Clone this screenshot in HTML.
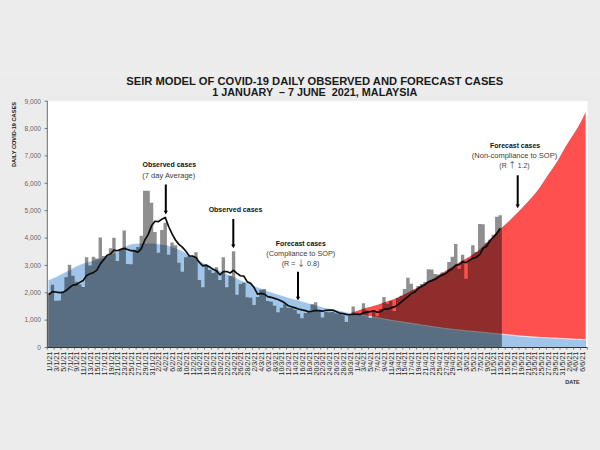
<!DOCTYPE html>
<html><head><meta charset="utf-8"><style>
html,body{margin:0;padding:0;background:#ececec;width:600px;height:450px;overflow:hidden}
svg{position:absolute;left:0;top:0}
</style></head><body>
<svg width="600" height="450" viewBox="0 0 600 450">
<rect x="0" y="0" width="600" height="450" fill="#ececec"/>
<rect x="0" y="72" width="600" height="3" fill="#eeeeee"/>
<rect x="47.3" y="101" width="540.2" height="246.5" fill="#ffffff"/>
<polygon points="349.79,347.50 349.79,312.69 353.21,311.87 356.63,310.88 360.05,309.72 363.47,308.51 366.88,307.49 370.30,306.68 373.72,305.85 377.14,304.82 380.56,303.61 383.97,302.35 387.39,301.18 390.81,300.04 394.23,298.82 397.65,297.39 401.06,295.79 404.48,294.12 407.90,292.39 411.32,290.60 414.74,288.80 418.15,287.07 421.57,285.32 424.99,283.44 428.41,281.44 431.83,279.36 435.24,277.25 438.66,275.12 442.08,272.93 445.50,270.72 448.92,268.54 452.33,266.43 455.75,264.36 459.17,262.33 462.59,260.36 466.01,258.44 469.42,256.45 472.84,254.29 476.26,251.91 479.68,249.25 483.10,246.08 486.51,242.56 489.93,239.08 493.35,235.57 496.77,232.23 500.19,229.05 503.60,225.87 507.02,222.71 510.44,219.46 513.86,216.10 517.27,212.65 520.69,209.13 524.11,205.56 527.53,201.91 530.95,198.10 534.37,194.16 537.78,189.90 541.20,185.00 544.62,179.73 548.04,174.62 551.46,169.79 554.87,164.66 558.29,159.19 561.71,152.97 565.13,147.02 568.54,141.56 571.96,136.17 575.38,130.91 578.80,125.16 582.22,118.72 585.63,111.71 585.63,347.50" fill="#ff5050"/>
<polyline points="349.79,312.19 353.21,311.37 356.63,310.38 360.05,309.22 363.47,308.01 366.88,306.99 370.30,306.18 373.72,305.35 377.14,304.32 380.56,303.11 383.97,301.85 387.39,300.68 390.81,299.54 394.23,298.32 397.65,296.89 401.06,295.29 404.48,293.62 407.90,291.89 411.32,290.10 414.74,288.30 418.15,286.57 421.57,284.82 424.99,282.94 428.41,280.94 431.83,278.86 435.24,276.75 438.66,274.62 442.08,272.43 445.50,270.22 448.92,268.04 452.33,265.93 455.75,263.86 459.17,261.83 462.59,259.86 466.01,257.94 469.42,255.95 472.84,253.79 476.26,251.41 479.68,248.75 483.10,245.58 486.51,242.06 489.93,238.58 493.35,235.07 496.77,231.73 500.19,228.55 503.60,225.37 507.02,222.21 510.44,218.96 513.86,215.60 517.27,212.15 520.69,208.63 524.11,205.06 527.53,201.41 530.95,197.60 534.37,193.66 537.78,189.40 541.20,184.50 544.62,179.23 548.04,174.12 551.46,169.29 554.87,164.16 558.29,158.69 561.71,152.47 565.13,146.52 568.54,141.06 571.96,135.67 575.38,130.41 578.80,124.66 582.22,118.22 585.63,111.21" fill="none" stroke="#fff" stroke-opacity="0.75" stroke-width="1"/>
<polygon points="48.50,347.50 48.50,279.63 49.01,279.63 52.43,278.18 55.84,276.65 59.26,275.06 62.68,273.37 66.10,271.59 69.52,269.79 72.94,267.85 76.35,265.97 79.77,264.39 83.19,263.22 86.61,262.24 90.03,261.31 93.44,260.33 96.86,259.35 100.28,258.34 103.70,257.22 107.12,255.92 110.53,254.50 113.95,253.01 117.37,251.32 120.79,249.19 124.20,247.12 127.62,245.30 131.04,243.99 134.46,243.40 137.88,243.27 141.30,243.18 144.71,243.13 148.13,243.10 151.55,243.12 154.97,243.33 158.38,243.70 161.80,244.16 165.22,244.72 168.64,245.57 172.06,246.65 175.48,247.87 178.89,249.20 182.31,250.82 185.73,252.64 189.15,254.53 192.56,256.46 195.98,258.53 199.40,260.61 202.82,262.57 206.24,264.35 209.66,266.04 213.07,267.67 216.49,269.27 219.91,270.83 223.33,272.34 226.75,273.83 230.16,275.32 233.58,276.85 237.00,278.37 240.42,279.88 243.83,281.35 247.25,282.79 250.67,284.20 254.09,285.59 257.51,286.95 260.93,288.29 264.34,289.61 267.76,290.88 271.18,292.07 274.60,293.19 278.01,294.26 281.43,295.30 284.85,296.34 288.27,297.36 291.69,298.36 295.11,299.34 298.52,300.31 301.94,301.25 305.36,302.17 308.78,303.10 312.20,304.07 315.61,305.09 319.03,306.09 322.45,307.00 325.87,307.78 329.29,308.49 332.70,309.16 336.12,309.83 339.54,310.53 342.96,311.25 346.38,311.96 349.79,312.65 353.21,313.32 356.63,313.98 360.05,314.64 363.47,315.28 366.88,315.92 370.30,316.55 373.72,317.17 377.14,317.78 380.56,318.39 383.97,318.99 387.39,319.59 390.81,320.18 394.23,320.75 397.65,321.32 401.06,321.86 404.48,322.38 407.90,322.89 411.32,323.39 414.74,323.89 418.15,324.40 421.57,324.93 424.99,325.45 428.41,325.97 431.83,326.49 435.24,326.98 438.66,327.48 442.08,327.98 445.50,328.45 448.92,328.89 452.33,329.30 455.75,329.69 459.17,330.05 462.59,330.40 466.01,330.74 469.42,331.07 472.84,331.37 476.26,331.67 479.68,331.98 483.10,332.29 486.51,332.63 489.93,332.97 493.35,333.32 496.77,333.68 500.19,334.02 503.60,334.36 507.02,334.71 510.44,335.06 513.86,335.41 517.27,335.75 520.69,336.08 524.11,336.37 527.53,336.64 530.95,336.87 534.37,337.08 537.78,337.27 541.20,337.45 544.62,337.63 548.04,337.80 551.46,337.96 554.87,338.13 558.29,338.29 561.71,338.47 565.13,338.65 568.54,338.83 571.96,339.01 575.38,339.19 578.80,339.36 582.22,339.54 585.63,339.72 585.63,347.50" fill="#a0c5e8"/>
<polyline points="49.01,279.63 52.43,278.18 55.84,276.65 59.26,275.06 62.68,273.37 66.10,271.59 69.52,269.79 72.94,267.85 76.35,265.97 79.77,264.39 83.19,263.22 86.61,262.24 90.03,261.31 93.44,260.33 96.86,259.35 100.28,258.34 103.70,257.22 107.12,255.92 110.53,254.50 113.95,253.01 117.37,251.32 120.79,249.19 124.20,247.12 127.62,245.30 131.04,243.99 134.46,243.40 137.88,243.27 141.30,243.18 144.71,243.13 148.13,243.10 151.55,243.12 154.97,243.33 158.38,243.70 161.80,244.16 165.22,244.72 168.64,245.57 172.06,246.65 175.48,247.87 178.89,249.20 182.31,250.82 185.73,252.64 189.15,254.53 192.56,256.46 195.98,258.53 199.40,260.61 202.82,262.57 206.24,264.35 209.66,266.04 213.07,267.67 216.49,269.27 219.91,270.83 223.33,272.34 226.75,273.83 230.16,275.32 233.58,276.85 237.00,278.37 240.42,279.88 243.83,281.35 247.25,282.79 250.67,284.20 254.09,285.59 257.51,286.95 260.93,288.29 264.34,289.61 267.76,290.88 271.18,292.07 274.60,293.19 278.01,294.26 281.43,295.30 284.85,296.34 288.27,297.36 291.69,298.36 295.11,299.34 298.52,300.31 301.94,301.25 305.36,302.17 308.78,303.10 312.20,304.07 315.61,305.09 319.03,306.09 322.45,307.00 325.87,307.78 329.29,308.49 332.70,309.16 336.12,309.83 339.54,310.53 342.96,311.25 346.38,311.96 349.79,312.65 353.21,313.32 356.63,313.98 360.05,314.64 363.47,315.28 366.88,315.92 370.30,316.55 373.72,317.17 377.14,317.78 380.56,318.39 383.97,318.99 387.39,319.59 390.81,320.18 394.23,320.75 397.65,321.32 401.06,321.86 404.48,322.38 407.90,322.89 411.32,323.39 414.74,323.89 418.15,324.40 421.57,324.93 424.99,325.45 428.41,325.97 431.83,326.49 435.24,326.98 438.66,327.48 442.08,327.98 445.50,328.45 448.92,328.89 452.33,329.30 455.75,329.69 459.17,330.05 462.59,330.40 466.01,330.74 469.42,331.07 472.84,331.37 476.26,331.67 479.68,331.98 483.10,332.29 486.51,332.63 489.93,332.97 493.35,333.32 496.77,333.68 500.19,334.02 503.60,334.36 507.02,334.71 510.44,335.06 513.86,335.41 517.27,335.75 520.69,336.08 524.11,336.37 527.53,336.64 530.95,336.87 534.37,337.08 537.78,337.27 541.20,337.45 544.62,337.63 548.04,337.80 551.46,337.96 554.87,338.13 558.29,338.29 561.71,338.47 565.13,338.65 568.54,338.83 571.96,339.01 575.38,339.19 578.80,339.36 582.22,339.54 585.63,339.72" fill="none" stroke="#fff" stroke-opacity="0.7" stroke-width="1.1"/>
<line x1="47.3" y1="101" x2="47.3" y2="347.5" stroke="#5a5a5a" stroke-width="0.9"/>
<g fill="#000" fill-opacity="0.44">
<path d="M47.30 347.50L47.30 292.77L50.72 292.77L50.72 284.83L54.14 284.83L54.14 300.70L57.55 300.70L57.55 300.43L60.97 300.43L60.97 291.95L64.39 291.95L64.39 277.17L67.81 277.17L67.81 264.85L71.23 264.85L71.23 275.80L74.64 275.80L74.64 281.82L78.06 281.82L78.06 284.56L81.48 284.56L81.48 287.02L84.90 287.02L84.90 257.19L88.32 257.19L88.32 265.40L91.73 265.40L91.73 256.64L95.15 256.64L95.15 258.56L98.57 258.56L98.57 237.49L101.99 237.49L101.99 256.10L105.41 256.10L105.41 255.82L108.82 255.82L108.82 248.30L112.24 248.30L112.24 237.87L115.66 237.87L115.66 260.99L119.08 260.99L119.08 248.98L122.50 248.98L122.50 230.59L125.91 230.59L125.91 264.03L129.33 264.03L129.33 264.31L132.75 264.31L132.75 249.66L136.17 249.66L136.17 247.01L139.59 247.01L139.59 235.68L143.00 235.68L143.00 190.83L146.42 190.83L146.42 190.74L149.84 190.74L149.84 202.70L153.26 202.70L153.26 232.01L156.68 232.01L156.68 252.67L160.09 252.67L160.09 230.01L163.51 230.01L163.51 222.71L166.93 222.71L166.93 254.70L170.35 254.70L170.35 242.41L173.77 242.41L173.77 245.31L177.18 245.31L177.18 262.80L180.60 262.80L180.60 271.69L184.02 271.69L184.02 257.19L187.44 257.19L187.44 256.10L190.86 256.10L190.86 257.19L194.27 257.19L194.27 252.21L197.69 252.21L197.69 279.90L201.11 279.90L201.11 287.29L204.53 287.29L204.53 265.67L207.95 265.67L207.95 270.05L211.36 270.05L211.36 273.06L214.78 273.06L214.78 267.32L218.20 267.32L218.20 279.99L221.62 279.99L221.62 257.30L225.04 257.30L225.04 287.29L228.45 287.29L228.45 275.80L231.87 275.80L231.87 251.31L235.29 251.31L235.29 294.68L238.71 294.68L238.71 284.01L242.13 284.01L242.13 282.70L245.54 282.70L245.54 297.31L248.96 297.31L248.96 297.69L252.38 297.69L252.38 305.00L255.80 305.00L255.80 297.01L259.22 297.01L259.22 289.70L262.63 289.70L262.63 288.99L266.05 288.99L266.05 300.98L269.47 300.98L269.47 301.66L272.89 301.66L272.89 305.68L276.31 305.68L276.31 312.31L279.72 312.31L279.72 307.68L283.14 307.68L283.14 304.32L286.56 304.32L286.56 307.68L289.98 307.68L289.98 307.68L293.40 307.68L293.40 309.68L296.81 309.68L296.81 313.70L300.23 313.70L300.23 318.30L303.65 318.30L303.65 313.02L307.07 313.02L307.07 311.92L310.49 311.92L310.49 304.32L313.90 304.32L313.90 302.35L317.32 302.35L317.32 311.10L320.74 311.10L320.74 317.40L324.16 317.40L324.16 311.92L327.58 311.92L327.58 312.20L330.99 312.20L330.99 311.92L334.41 311.92L334.41 313.29L337.83 313.29L337.83 313.84L341.25 313.84L341.25 315.32L344.67 315.32L344.67 322.02L348.08 322.02L348.08 316.00L351.50 316.00L351.50 306.45L354.92 306.45L354.92 312.66L358.34 312.66L358.34 314.66L361.76 314.66L361.76 303.17L365.17 303.17L365.17 310.28L368.59 310.28L368.59 317.94L372.01 317.94L372.01 310.56L375.43 310.56L375.43 316.30L378.85 316.30L378.85 309.00L382.26 309.00L382.26 297.01L385.68 297.01L385.68 303.71L389.10 303.71L389.10 300.98L392.52 300.98L392.52 310.99L395.94 310.99L395.94 297.69L399.35 297.69L399.35 295.69L402.77 295.69L402.77 288.99L406.19 288.99L406.19 277.69L409.61 277.69L409.61 283.71L413.03 283.71L413.03 289.70L416.44 289.70L416.44 286.01L419.86 286.01L419.86 284.01L423.28 284.01L423.28 282.01L426.70 282.01L426.70 269.31L430.12 269.31L430.12 269.50L433.53 269.50L433.53 273.99L436.95 273.99L436.95 274.49L440.37 274.49L440.37 272.41L443.79 272.41L443.79 273.61L447.21 273.61L447.21 262.01L450.62 262.01L450.62 256.70L454.04 256.70L454.04 244.00L457.46 244.00L457.46 268.68L460.88 268.68L460.88 254.70L464.30 254.70L464.30 278.67L467.71 278.67L467.71 258.70L471.13 258.70L471.13 245.31L474.55 245.31L474.55 251.99L477.97 251.99L477.97 223.99L481.39 223.99L481.39 224.21L484.80 224.21L484.80 242.69L488.22 242.69L488.22 239.68L491.64 239.68L491.64 234.67L495.06 234.67L495.06 216.69L498.48 216.69L498.48 215.32L501.89 215.32L501.89 347.50Z"/>
</g>
<polyline points="49.01,294.72 52.43,291.63 55.84,291.98 59.26,292.69 62.68,292.38 66.10,290.54 69.52,287.53 72.94,285.10 76.35,284.67 79.77,282.37 83.19,280.45 86.61,275.49 90.03,273.81 93.44,272.63 96.86,270.17 100.28,263.84 103.70,259.77 107.12,255.31 110.53,254.04 113.95,250.11 117.37,250.73 120.79,249.36 124.20,248.38 127.62,249.51 131.04,250.72 134.46,250.92 137.88,252.22 141.30,248.61 144.71,240.30 148.13,234.61 151.55,225.85 154.97,221.23 158.38,221.66 161.80,219.24 165.22,217.38 168.64,226.51 172.06,233.89 175.48,239.98 178.89,244.37 182.31,247.09 185.73,250.97 189.15,255.74 192.56,256.10 195.98,257.50 199.40,262.44 202.82,265.94 206.24,265.08 209.66,266.92 213.07,269.34 216.49,270.79 219.91,274.76 223.33,271.53 226.75,271.53 230.16,272.97 233.58,270.29 237.00,273.38 240.42,275.77 243.83,276.16 247.25,281.87 250.67,283.36 254.09,287.53 257.51,294.06 260.93,293.35 264.34,294.06 267.76,296.67 271.18,297.29 274.60,298.43 278.01,299.48 281.43,301.00 284.85,303.09 288.27,305.76 291.69,306.72 295.11,307.86 298.52,309.01 301.94,309.86 305.36,310.63 308.78,311.71 312.20,311.23 315.61,310.47 319.03,310.67 322.45,311.20 325.87,310.29 329.29,310.17 332.70,310.17 336.12,311.45 339.54,313.10 342.96,313.70 346.38,314.36 349.79,314.94 353.21,314.12 356.63,314.23 360.05,314.42 363.47,312.90 366.88,312.18 370.30,311.59 373.72,310.82 377.14,312.22 380.56,311.70 383.97,309.18 387.39,309.26 390.81,307.93 394.23,306.93 397.65,305.10 401.06,302.15 404.48,299.30 407.90,296.54 411.32,293.68 414.74,292.07 418.15,288.50 421.57,286.54 424.99,284.59 428.41,281.78 431.83,280.61 435.24,279.22 438.66,277.05 442.08,275.10 445.50,273.62 448.92,270.76 452.33,268.96 455.75,265.31 459.17,264.56 462.59,261.73 466.01,262.62 469.42,260.49 472.84,258.11 476.26,257.44 479.68,254.58 483.10,248.23 486.51,246.51 489.93,240.94 493.35,237.51 496.77,233.42 500.19,228.18" fill="none" stroke="#0d0d0d" stroke-width="1.7" stroke-linejoin="round"/>
<line x1="47.3" y1="347.5" x2="587.3" y2="347.5" stroke="#333" stroke-width="1.1"/>
<g stroke="#5a5a5a" stroke-width="0.8"><line x1="47.30" y1="347.5" x2="47.30" y2="349.6"/>
<line x1="54.14" y1="347.5" x2="54.14" y2="349.6"/>
<line x1="60.97" y1="347.5" x2="60.97" y2="349.6"/>
<line x1="67.81" y1="347.5" x2="67.81" y2="349.6"/>
<line x1="74.64" y1="347.5" x2="74.64" y2="349.6"/>
<line x1="81.48" y1="347.5" x2="81.48" y2="349.6"/>
<line x1="88.32" y1="347.5" x2="88.32" y2="349.6"/>
<line x1="95.15" y1="347.5" x2="95.15" y2="349.6"/>
<line x1="101.99" y1="347.5" x2="101.99" y2="349.6"/>
<line x1="108.82" y1="347.5" x2="108.82" y2="349.6"/>
<line x1="115.66" y1="347.5" x2="115.66" y2="349.6"/>
<line x1="122.50" y1="347.5" x2="122.50" y2="349.6"/>
<line x1="129.33" y1="347.5" x2="129.33" y2="349.6"/>
<line x1="136.17" y1="347.5" x2="136.17" y2="349.6"/>
<line x1="143.00" y1="347.5" x2="143.00" y2="349.6"/>
<line x1="149.84" y1="347.5" x2="149.84" y2="349.6"/>
<line x1="156.68" y1="347.5" x2="156.68" y2="349.6"/>
<line x1="163.51" y1="347.5" x2="163.51" y2="349.6"/>
<line x1="170.35" y1="347.5" x2="170.35" y2="349.6"/>
<line x1="177.18" y1="347.5" x2="177.18" y2="349.6"/>
<line x1="184.02" y1="347.5" x2="184.02" y2="349.6"/>
<line x1="190.86" y1="347.5" x2="190.86" y2="349.6"/>
<line x1="197.69" y1="347.5" x2="197.69" y2="349.6"/>
<line x1="204.53" y1="347.5" x2="204.53" y2="349.6"/>
<line x1="211.36" y1="347.5" x2="211.36" y2="349.6"/>
<line x1="218.20" y1="347.5" x2="218.20" y2="349.6"/>
<line x1="225.04" y1="347.5" x2="225.04" y2="349.6"/>
<line x1="231.87" y1="347.5" x2="231.87" y2="349.6"/>
<line x1="238.71" y1="347.5" x2="238.71" y2="349.6"/>
<line x1="245.54" y1="347.5" x2="245.54" y2="349.6"/>
<line x1="252.38" y1="347.5" x2="252.38" y2="349.6"/>
<line x1="259.22" y1="347.5" x2="259.22" y2="349.6"/>
<line x1="266.05" y1="347.5" x2="266.05" y2="349.6"/>
<line x1="272.89" y1="347.5" x2="272.89" y2="349.6"/>
<line x1="279.72" y1="347.5" x2="279.72" y2="349.6"/>
<line x1="286.56" y1="347.5" x2="286.56" y2="349.6"/>
<line x1="293.40" y1="347.5" x2="293.40" y2="349.6"/>
<line x1="300.23" y1="347.5" x2="300.23" y2="349.6"/>
<line x1="307.07" y1="347.5" x2="307.07" y2="349.6"/>
<line x1="313.90" y1="347.5" x2="313.90" y2="349.6"/>
<line x1="320.74" y1="347.5" x2="320.74" y2="349.6"/>
<line x1="327.58" y1="347.5" x2="327.58" y2="349.6"/>
<line x1="334.41" y1="347.5" x2="334.41" y2="349.6"/>
<line x1="341.25" y1="347.5" x2="341.25" y2="349.6"/>
<line x1="348.08" y1="347.5" x2="348.08" y2="349.6"/>
<line x1="354.92" y1="347.5" x2="354.92" y2="349.6"/>
<line x1="361.76" y1="347.5" x2="361.76" y2="349.6"/>
<line x1="368.59" y1="347.5" x2="368.59" y2="349.6"/>
<line x1="375.43" y1="347.5" x2="375.43" y2="349.6"/>
<line x1="382.26" y1="347.5" x2="382.26" y2="349.6"/>
<line x1="389.10" y1="347.5" x2="389.10" y2="349.6"/>
<line x1="395.94" y1="347.5" x2="395.94" y2="349.6"/>
<line x1="402.77" y1="347.5" x2="402.77" y2="349.6"/>
<line x1="409.61" y1="347.5" x2="409.61" y2="349.6"/>
<line x1="416.44" y1="347.5" x2="416.44" y2="349.6"/>
<line x1="423.28" y1="347.5" x2="423.28" y2="349.6"/>
<line x1="430.12" y1="347.5" x2="430.12" y2="349.6"/>
<line x1="436.95" y1="347.5" x2="436.95" y2="349.6"/>
<line x1="443.79" y1="347.5" x2="443.79" y2="349.6"/>
<line x1="450.62" y1="347.5" x2="450.62" y2="349.6"/>
<line x1="457.46" y1="347.5" x2="457.46" y2="349.6"/>
<line x1="464.30" y1="347.5" x2="464.30" y2="349.6"/>
<line x1="471.13" y1="347.5" x2="471.13" y2="349.6"/>
<line x1="477.97" y1="347.5" x2="477.97" y2="349.6"/>
<line x1="484.80" y1="347.5" x2="484.80" y2="349.6"/>
<line x1="491.64" y1="347.5" x2="491.64" y2="349.6"/>
<line x1="498.48" y1="347.5" x2="498.48" y2="349.6"/>
<line x1="505.31" y1="347.5" x2="505.31" y2="349.6"/>
<line x1="512.15" y1="347.5" x2="512.15" y2="349.6"/>
<line x1="518.98" y1="347.5" x2="518.98" y2="349.6"/>
<line x1="525.82" y1="347.5" x2="525.82" y2="349.6"/>
<line x1="532.66" y1="347.5" x2="532.66" y2="349.6"/>
<line x1="539.49" y1="347.5" x2="539.49" y2="349.6"/>
<line x1="546.33" y1="347.5" x2="546.33" y2="349.6"/>
<line x1="553.16" y1="347.5" x2="553.16" y2="349.6"/>
<line x1="560.00" y1="347.5" x2="560.00" y2="349.6"/>
<line x1="566.84" y1="347.5" x2="566.84" y2="349.6"/>
<line x1="573.67" y1="347.5" x2="573.67" y2="349.6"/>
<line x1="580.51" y1="347.5" x2="580.51" y2="349.6"/>
<line x1="587.34" y1="347.5" x2="587.34" y2="349.6"/></g>
<g stroke="#5a5a5a" stroke-width="0.8"><line x1="44.6" y1="347.50" x2="47.3" y2="347.50"/>
<line x1="44.6" y1="320.13" x2="47.3" y2="320.13"/>
<line x1="44.6" y1="292.77" x2="47.3" y2="292.77"/>
<line x1="44.6" y1="265.40" x2="47.3" y2="265.40"/>
<line x1="44.6" y1="238.03" x2="47.3" y2="238.03"/>
<line x1="44.6" y1="210.67" x2="47.3" y2="210.67"/>
<line x1="44.6" y1="183.30" x2="47.3" y2="183.30"/>
<line x1="44.6" y1="155.93" x2="47.3" y2="155.93"/>
<line x1="44.6" y1="128.57" x2="47.3" y2="128.57"/>
<line x1="44.6" y1="101.20" x2="47.3" y2="101.20"/></g>
<g font-family="Liberation Sans, Arial, sans-serif" font-size="6.6" fill="#666" text-anchor="end">
<text x="41" y="349.80">0</text>
<text x="41" y="322.43">1,000</text>
<text x="41" y="295.07">2,000</text>
<text x="41" y="267.70">3,000</text>
<text x="41" y="240.33">4,000</text>
<text x="41" y="212.97">5,000</text>
<text x="41" y="185.60">6,000</text>
<text x="41" y="158.23">7,000</text>
<text x="41" y="130.87">8,000</text>
<text x="41" y="103.50">9,000</text>
</g>
<g font-family="Liberation Sans, Arial, sans-serif" font-size="6.4" fill="#262626" text-anchor="end">
<text transform="translate(52.01,351.6) rotate(-90)" textLength="20.16" lengthAdjust="spacingAndGlyphs">1/1/21</text>
<text transform="translate(58.84,351.6) rotate(-90)" textLength="20.16" lengthAdjust="spacingAndGlyphs">3/1/21</text>
<text transform="translate(65.68,351.6) rotate(-90)" textLength="20.16" lengthAdjust="spacingAndGlyphs">5/1/21</text>
<text transform="translate(72.52,351.6) rotate(-90)" textLength="20.16" lengthAdjust="spacingAndGlyphs">7/1/21</text>
<text transform="translate(79.35,351.6) rotate(-90)" textLength="20.16" lengthAdjust="spacingAndGlyphs">9/1/21</text>
<text transform="translate(86.19,351.6) rotate(-90)" textLength="23.81" lengthAdjust="spacingAndGlyphs">11/1/21</text>
<text transform="translate(93.03,351.6) rotate(-90)" textLength="23.81" lengthAdjust="spacingAndGlyphs">13/1/21</text>
<text transform="translate(99.86,351.6) rotate(-90)" textLength="23.81" lengthAdjust="spacingAndGlyphs">15/1/21</text>
<text transform="translate(106.70,351.6) rotate(-90)" textLength="23.81" lengthAdjust="spacingAndGlyphs">17/1/21</text>
<text transform="translate(113.53,351.6) rotate(-90)" textLength="23.81" lengthAdjust="spacingAndGlyphs">19/1/21</text>
<text transform="translate(120.37,351.6) rotate(-90)" textLength="23.81" lengthAdjust="spacingAndGlyphs">21/1/21</text>
<text transform="translate(127.20,351.6) rotate(-90)" textLength="23.81" lengthAdjust="spacingAndGlyphs">23/1/21</text>
<text transform="translate(134.04,351.6) rotate(-90)" textLength="23.81" lengthAdjust="spacingAndGlyphs">25/1/21</text>
<text transform="translate(140.88,351.6) rotate(-90)" textLength="23.81" lengthAdjust="spacingAndGlyphs">27/1/21</text>
<text transform="translate(147.71,351.6) rotate(-90)" textLength="23.81" lengthAdjust="spacingAndGlyphs">29/1/21</text>
<text transform="translate(154.55,351.6) rotate(-90)" textLength="23.81" lengthAdjust="spacingAndGlyphs">31/1/21</text>
<text transform="translate(161.38,351.6) rotate(-90)" textLength="20.16" lengthAdjust="spacingAndGlyphs">2/2/21</text>
<text transform="translate(168.22,351.6) rotate(-90)" textLength="20.16" lengthAdjust="spacingAndGlyphs">4/2/21</text>
<text transform="translate(175.06,351.6) rotate(-90)" textLength="20.16" lengthAdjust="spacingAndGlyphs">6/2/21</text>
<text transform="translate(181.89,351.6) rotate(-90)" textLength="20.16" lengthAdjust="spacingAndGlyphs">8/2/21</text>
<text transform="translate(188.73,351.6) rotate(-90)" textLength="23.81" lengthAdjust="spacingAndGlyphs">10/2/21</text>
<text transform="translate(195.56,351.6) rotate(-90)" textLength="23.81" lengthAdjust="spacingAndGlyphs">12/2/21</text>
<text transform="translate(202.40,351.6) rotate(-90)" textLength="23.81" lengthAdjust="spacingAndGlyphs">14/2/21</text>
<text transform="translate(209.24,351.6) rotate(-90)" textLength="23.81" lengthAdjust="spacingAndGlyphs">16/2/21</text>
<text transform="translate(216.07,351.6) rotate(-90)" textLength="23.81" lengthAdjust="spacingAndGlyphs">18/2/21</text>
<text transform="translate(222.91,351.6) rotate(-90)" textLength="23.81" lengthAdjust="spacingAndGlyphs">20/2/21</text>
<text transform="translate(229.75,351.6) rotate(-90)" textLength="23.81" lengthAdjust="spacingAndGlyphs">22/2/21</text>
<text transform="translate(236.58,351.6) rotate(-90)" textLength="23.81" lengthAdjust="spacingAndGlyphs">24/2/21</text>
<text transform="translate(243.42,351.6) rotate(-90)" textLength="23.81" lengthAdjust="spacingAndGlyphs">26/2/21</text>
<text transform="translate(250.25,351.6) rotate(-90)" textLength="23.81" lengthAdjust="spacingAndGlyphs">28/2/21</text>
<text transform="translate(257.09,351.6) rotate(-90)" textLength="20.16" lengthAdjust="spacingAndGlyphs">2/3/21</text>
<text transform="translate(263.93,351.6) rotate(-90)" textLength="20.16" lengthAdjust="spacingAndGlyphs">4/3/21</text>
<text transform="translate(270.76,351.6) rotate(-90)" textLength="20.16" lengthAdjust="spacingAndGlyphs">6/3/21</text>
<text transform="translate(277.60,351.6) rotate(-90)" textLength="20.16" lengthAdjust="spacingAndGlyphs">8/3/21</text>
<text transform="translate(284.43,351.6) rotate(-90)" textLength="23.81" lengthAdjust="spacingAndGlyphs">10/3/21</text>
<text transform="translate(291.27,351.6) rotate(-90)" textLength="23.81" lengthAdjust="spacingAndGlyphs">12/3/21</text>
<text transform="translate(298.11,351.6) rotate(-90)" textLength="23.81" lengthAdjust="spacingAndGlyphs">14/3/21</text>
<text transform="translate(304.94,351.6) rotate(-90)" textLength="23.81" lengthAdjust="spacingAndGlyphs">16/3/21</text>
<text transform="translate(311.78,351.6) rotate(-90)" textLength="23.81" lengthAdjust="spacingAndGlyphs">18/3/21</text>
<text transform="translate(318.61,351.6) rotate(-90)" textLength="23.81" lengthAdjust="spacingAndGlyphs">20/3/21</text>
<text transform="translate(325.45,351.6) rotate(-90)" textLength="23.81" lengthAdjust="spacingAndGlyphs">22/3/21</text>
<text transform="translate(332.29,351.6) rotate(-90)" textLength="23.81" lengthAdjust="spacingAndGlyphs">24/3/21</text>
<text transform="translate(339.12,351.6) rotate(-90)" textLength="23.81" lengthAdjust="spacingAndGlyphs">26/3/21</text>
<text transform="translate(345.96,351.6) rotate(-90)" textLength="23.81" lengthAdjust="spacingAndGlyphs">28/3/21</text>
<text transform="translate(352.79,351.6) rotate(-90)" textLength="23.81" lengthAdjust="spacingAndGlyphs">30/3/21</text>
<text transform="translate(359.63,351.6) rotate(-90)" textLength="20.16" lengthAdjust="spacingAndGlyphs">1/4/21</text>
<text transform="translate(366.47,351.6) rotate(-90)" textLength="20.16" lengthAdjust="spacingAndGlyphs">3/4/21</text>
<text transform="translate(373.30,351.6) rotate(-90)" textLength="20.16" lengthAdjust="spacingAndGlyphs">5/4/21</text>
<text transform="translate(380.14,351.6) rotate(-90)" textLength="20.16" lengthAdjust="spacingAndGlyphs">7/4/21</text>
<text transform="translate(386.97,351.6) rotate(-90)" textLength="20.16" lengthAdjust="spacingAndGlyphs">9/4/21</text>
<text transform="translate(393.81,351.6) rotate(-90)" textLength="23.81" lengthAdjust="spacingAndGlyphs">11/4/21</text>
<text transform="translate(400.65,351.6) rotate(-90)" textLength="23.81" lengthAdjust="spacingAndGlyphs">13/4/21</text>
<text transform="translate(407.48,351.6) rotate(-90)" textLength="23.81" lengthAdjust="spacingAndGlyphs">15/4/21</text>
<text transform="translate(414.32,351.6) rotate(-90)" textLength="23.81" lengthAdjust="spacingAndGlyphs">17/4/21</text>
<text transform="translate(421.15,351.6) rotate(-90)" textLength="23.81" lengthAdjust="spacingAndGlyphs">19/4/21</text>
<text transform="translate(427.99,351.6) rotate(-90)" textLength="23.81" lengthAdjust="spacingAndGlyphs">21/4/21</text>
<text transform="translate(434.83,351.6) rotate(-90)" textLength="23.81" lengthAdjust="spacingAndGlyphs">23/4/21</text>
<text transform="translate(441.66,351.6) rotate(-90)" textLength="23.81" lengthAdjust="spacingAndGlyphs">25/4/21</text>
<text transform="translate(448.50,351.6) rotate(-90)" textLength="23.81" lengthAdjust="spacingAndGlyphs">27/4/21</text>
<text transform="translate(455.33,351.6) rotate(-90)" textLength="23.81" lengthAdjust="spacingAndGlyphs">29/4/21</text>
<text transform="translate(462.17,351.6) rotate(-90)" textLength="20.16" lengthAdjust="spacingAndGlyphs">1/5/21</text>
<text transform="translate(469.01,351.6) rotate(-90)" textLength="20.16" lengthAdjust="spacingAndGlyphs">3/5/21</text>
<text transform="translate(475.84,351.6) rotate(-90)" textLength="20.16" lengthAdjust="spacingAndGlyphs">5/5/21</text>
<text transform="translate(482.68,351.6) rotate(-90)" textLength="20.16" lengthAdjust="spacingAndGlyphs">7/5/21</text>
<text transform="translate(489.51,351.6) rotate(-90)" textLength="20.16" lengthAdjust="spacingAndGlyphs">9/5/21</text>
<text transform="translate(496.35,351.6) rotate(-90)" textLength="23.81" lengthAdjust="spacingAndGlyphs">11/5/21</text>
<text transform="translate(503.19,351.6) rotate(-90)" textLength="23.81" lengthAdjust="spacingAndGlyphs">13/5/21</text>
<text transform="translate(510.02,351.6) rotate(-90)" textLength="23.81" lengthAdjust="spacingAndGlyphs">15/5/21</text>
<text transform="translate(516.86,351.6) rotate(-90)" textLength="23.81" lengthAdjust="spacingAndGlyphs">17/5/21</text>
<text transform="translate(523.69,351.6) rotate(-90)" textLength="23.81" lengthAdjust="spacingAndGlyphs">19/5/21</text>
<text transform="translate(530.53,351.6) rotate(-90)" textLength="23.81" lengthAdjust="spacingAndGlyphs">21/5/21</text>
<text transform="translate(537.37,351.6) rotate(-90)" textLength="23.81" lengthAdjust="spacingAndGlyphs">23/5/21</text>
<text transform="translate(544.20,351.6) rotate(-90)" textLength="23.81" lengthAdjust="spacingAndGlyphs">25/5/21</text>
<text transform="translate(551.04,351.6) rotate(-90)" textLength="23.81" lengthAdjust="spacingAndGlyphs">27/5/21</text>
<text transform="translate(557.87,351.6) rotate(-90)" textLength="23.81" lengthAdjust="spacingAndGlyphs">29/5/21</text>
<text transform="translate(564.71,351.6) rotate(-90)" textLength="23.81" lengthAdjust="spacingAndGlyphs">31/5/21</text>
<text transform="translate(571.54,351.6) rotate(-90)" textLength="20.16" lengthAdjust="spacingAndGlyphs">2/6/21</text>
<text transform="translate(578.38,351.6) rotate(-90)" textLength="20.16" lengthAdjust="spacingAndGlyphs">4/6/21</text>
<text transform="translate(585.22,351.6) rotate(-90)" textLength="20.16" lengthAdjust="spacingAndGlyphs">6/6/21</text>
</g>
<text transform="translate(16,134.5) rotate(-90)" font-family="Liberation Sans, Arial, sans-serif" font-weight="bold" font-size="6.1" text-anchor="middle" fill="#111" textLength="65" lengthAdjust="spacingAndGlyphs">DAILY COVID-19 CASES</text>
<text x="572.5" y="383.8" font-family="Liberation Sans, Arial, sans-serif" font-weight="bold" font-size="6.1" text-anchor="middle" fill="#2a2a2a" textLength="14.6" lengthAdjust="spacingAndGlyphs">DATE</text>
<g font-family="Liberation Sans, Arial, sans-serif" font-weight="bold" font-size="10" fill="#1a1a1a" text-anchor="middle">
<text x="314.8" y="85.4" textLength="377" lengthAdjust="spacingAndGlyphs">SEIR MODEL OF COVID-19 DAILY OBSERVED AND FORECAST CASES</text>
<text x="314.8" y="95.8" textLength="205" lengthAdjust="spacingAndGlyphs" xml:space="preserve">1 JANUARY  &#8211; 7 JUNE  2021, MALAYSIA</text>
</g>
<g font-family="Liberation Sans, Arial, sans-serif" font-size="6.8" fill="#111" text-anchor="middle">
<text x="169.3" y="167.4" font-weight="bold" textLength="53.7" lengthAdjust="spacingAndGlyphs">Observed cases</text>
<text x="168.8" y="177.7" font-size="7.4" fill="#3c3c3c" textLength="53" lengthAdjust="spacingAndGlyphs">(7 day Average)</text>
<text x="235.5" y="212.1" font-weight="bold" textLength="53.7" lengthAdjust="spacingAndGlyphs">Observed cases</text>
<text x="300.8" y="246.2" font-weight="bold" textLength="50" lengthAdjust="spacingAndGlyphs">Forecast cases</text>
<text x="300.8" y="256.4" font-size="7.4" fill="#3c3c3c" textLength="69" lengthAdjust="spacingAndGlyphs">(Compliance to SOP)</text>
<text x="300.5" y="266.1" font-size="7.4" fill="#3c3c3c" textLength="37.5" lengthAdjust="spacingAndGlyphs">(R = <tspan font-family="Noto Sans CJK JP, DejaVu Sans, sans-serif" font-size="8">&#8595;</tspan> 0.8)</text>
<text x="515.1" y="148.2" font-weight="bold" textLength="50" lengthAdjust="spacingAndGlyphs">Forecast cases</text>
<text x="514.5" y="158.4" font-size="7.4" fill="#3c3c3c" textLength="85.3" lengthAdjust="spacingAndGlyphs">(Non-compliance to SOP)</text>
<text x="514.5" y="168.4" font-size="7.4" fill="#3c3c3c" textLength="30.3" lengthAdjust="spacingAndGlyphs">(R <tspan font-family="Noto Sans CJK JP, DejaVu Sans, sans-serif" font-size="8">&#8593;</tspan> 1.2)</text>
</g>
<line x1="165.8" y1="184.5" x2="165.8" y2="211.3" stroke="#000" stroke-width="2"/><path d="M163.7 210.7L165.8 214.5L167.9 210.7Z" fill="#000"/><line x1="233.3" y1="219.0" x2="233.3" y2="245.1" stroke="#000" stroke-width="2"/><path d="M231.2 244.5L233.3 248.3L235.4 244.5Z" fill="#000"/><line x1="298.0" y1="271.7" x2="298.0" y2="297.3" stroke="#000" stroke-width="2"/><path d="M295.9 296.7L298.0 300.5L300.1 296.7Z" fill="#000"/><line x1="517.7" y1="175.3" x2="517.7" y2="205.1" stroke="#000" stroke-width="2"/><path d="M515.6 204.5L517.7 208.3L519.8 204.5Z" fill="#000"/>
</svg>
</body></html>
